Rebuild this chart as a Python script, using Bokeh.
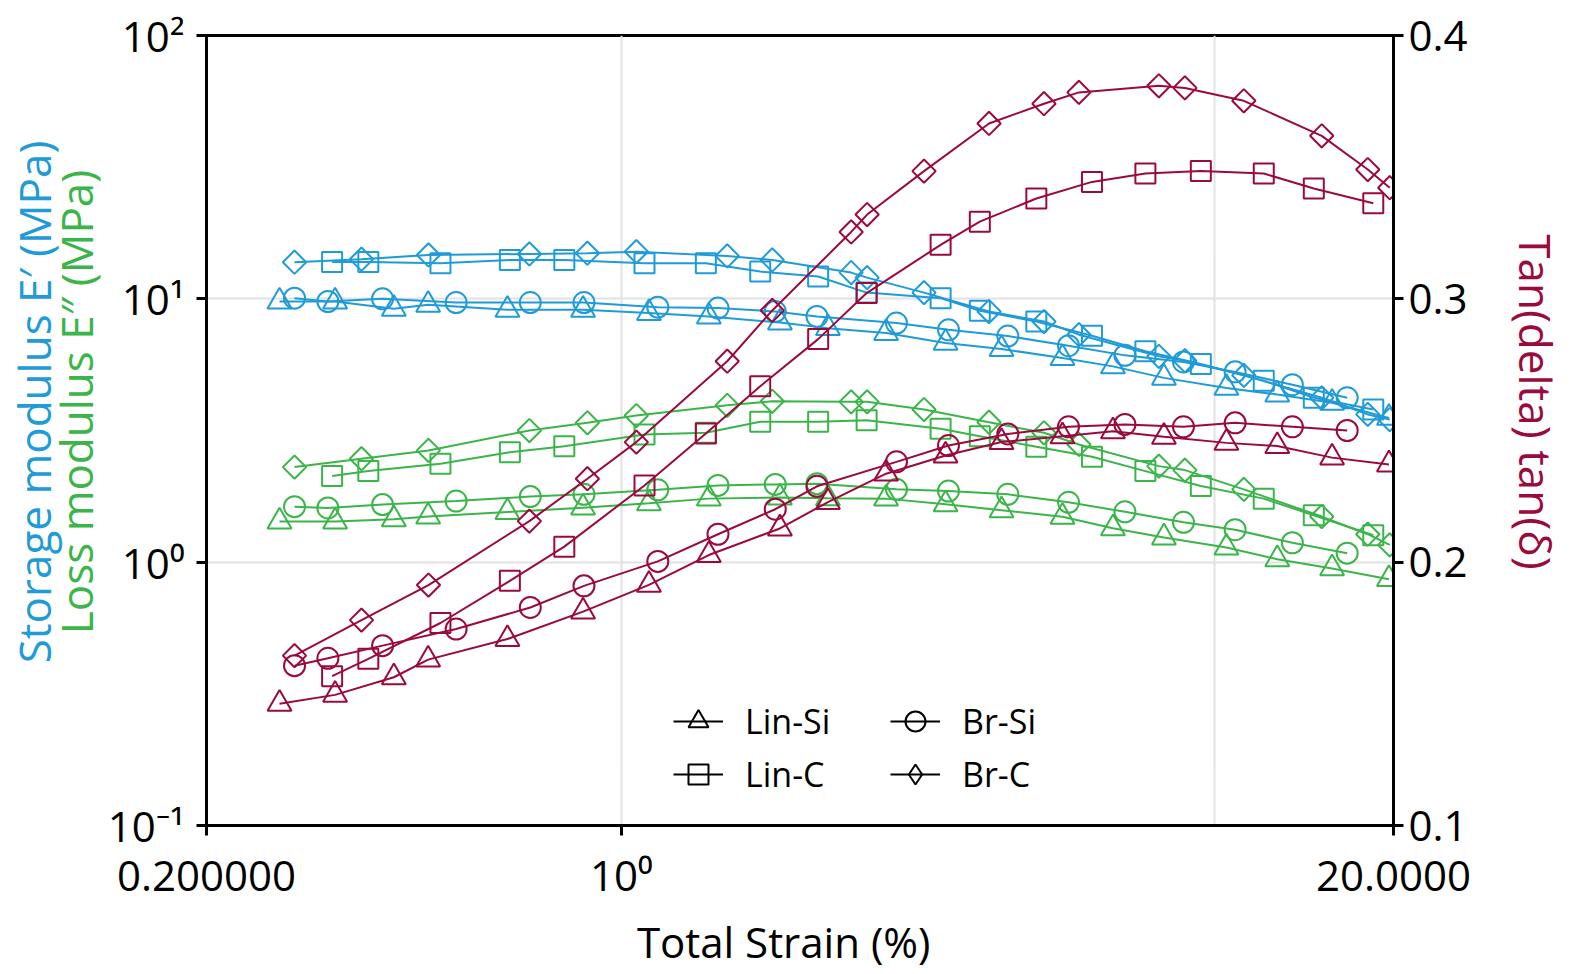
import math
from bokeh.plotting import figure
from bokeh.models import (Range1d, LinearAxis, LogAxis, LinearScale, FixedTicker,
                          Legend, LegendItem, ColumnDataSource)
from bokeh.embed import file_html
from bokeh.resources import INLINE

FONT = "Open Sans"
BLUE = "#1F9BD7"
GREEN = "#3BB54A"
RED = "#9B0A3C"
NBSP = "\u00a0"

# ---------------- data (strain %, E' MPa, E'' MPa, tan delta) ----------------
lin_si_strain = [0.2655, 0.3294, 0.4137, 0.4726, 0.6428, 0.8620, 1.113, 1.404, 1.850, 2.229,
                 2.793, 3.518, 4.371, 5.537, 6.735, 8.208, 10.46, 12.74, 15.76, 19.65]
lin_si_storage = [9.77, 9.77, 9.17, 9.49, 9.08, 9.08, 8.83, 8.57, 8.13, 7.74,
                  7.42, 6.80, 6.45, 5.96, 5.54, 5.01, 4.59, 4.33, 4.03, 3.53]
lin_si_loss = [1.426, 1.426, 1.455, 1.490, 1.551, 1.611, 1.673, 1.743, 1.759, 1.747,
               1.743, 1.658, 1.574, 1.487, 1.345, 1.241, 1.137, 1.026, 0.947, 0.862]
lin_si_tan = [0.1462, 0.1496, 0.1563, 0.1630, 0.1708, 0.1812, 0.1914, 0.2027, 0.2128, 0.2228,
              0.2336, 0.2405, 0.2456, 0.2478, 0.2497, 0.2476, 0.2453, 0.2441, 0.2397, 0.2371]

lin_c_strain = [0.3256, 0.3747, 0.4957, 0.6489, 0.8015, 1.094, 1.388, 1.714, 2.146, 2.590,
                3.451, 4.018, 5.003, 6.208, 7.638, 9.471, 12.09, 14.68, 18.49]
lin_c_storage = [13.81, 13.81, 13.65, 14.05, 14.05, 13.65, 13.65, 12.69, 12.15, 10.56,
                 10.06, 9.01, 8.20, 7.24, 6.32, 5.66, 4.89, 4.21, 3.80]
lin_c_loss = [2.123, 2.217, 2.365, 2.617, 2.757, 3.054, 3.100, 3.412, 3.412, 3.459,
              3.209, 3.009, 2.743, 2.514, 2.217, 1.945, 1.743, 1.507, 1.265]
lin_c_tan = [0.1567, 0.1633, 0.1769, 0.1929, 0.2059, 0.2291, 0.2489, 0.2668, 0.2847, 0.3022,
             0.3205, 0.3293, 0.3381, 0.3444, 0.3476, 0.3485, 0.3476, 0.3419, 0.3363]

br_si_strain = [0.2814, 0.3203, 0.3960, 0.5268, 0.7024, 0.8650, 1.152, 1.455, 1.817, 2.136,
                2.908, 3.558, 4.479, 5.668, 7.055, 8.854, 10.82, 13.51, 16.71]
br_si_storage = [10.06, 9.77, 10.0, 9.68, 9.68, 9.68, 9.30, 9.22, 8.95, 8.57,
                 8.09, 7.63, 7.22, 6.64, 6.10, 5.76, 5.28, 4.72, 4.21]
br_si_loss = [1.625, 1.606, 1.654, 1.707, 1.774, 1.810, 1.883, 1.957, 1.974, 1.987,
              1.890, 1.862, 1.810, 1.688, 1.553, 1.417, 1.328, 1.185, 1.082]
br_si_tan = [0.1607, 0.1635, 0.1683, 0.1746, 0.1828, 0.1910, 0.2003, 0.2106, 0.2201, 0.2288,
             0.2381, 0.2443, 0.2487, 0.2514, 0.2523, 0.2514, 0.2529, 0.2514, 0.2500]

br_c_strain = [0.2814, 0.3649, 0.4732, 0.6999, 0.8766, 1.060, 1.508, 1.796, 2.439, 2.595,
               3.236, 4.164, 5.153, 5.902, 8.048, 8.903, 11.19, 15.14, 18.10, 19.71]
br_c_storage = [13.77, 14.14, 14.68, 14.81, 14.90, 15.11, 14.55, 14.05, 12.58, 12.04,
                10.56, 8.95, 8.20, 7.31, 6.05, 5.82, 5.12, 4.21, 3.64, 3.48]
br_c_loss = [2.296, 2.471, 2.657, 3.162, 3.382, 3.605, 3.943, 4.083, 4.062, 4.062,
             3.798, 3.400, 3.100, 2.799, 2.316, 2.237, 1.890, 1.490, 1.277, 1.163]
br_c_tan = [0.1645, 0.1780, 0.1913, 0.2156, 0.2317, 0.2456, 0.2763, 0.2956, 0.3254, 0.3320,
            0.3485, 0.3666, 0.3741, 0.3784, 0.3809, 0.3801, 0.3752, 0.3619, 0.3491, 0.3422]

sample_names = ["Lin-Si", "Lin-C", "Br-Si", "Br-C"]
x_ticks = [0.2, 1, 20]
x_tick_labels = ["0.200000", "10\u2070", "20.0000"]
y_ticks = [0.1, 1, 10, 100]
y_tick_labels = ["10\u207b\u00b9", "10\u2070", "10\u00b9", "10\u00b2"]
tan_ticks = [0.1, 0.2, 0.3, 0.4]

samples = {
    "Lin-Si": (lin_si_strain, lin_si_storage, lin_si_loss, lin_si_tan),
    "Lin-C": (lin_c_strain, lin_c_storage, lin_c_loss, lin_c_tan),
    "Br-Si": (br_si_strain, br_si_storage, br_si_loss, br_si_tan),
    "Br-C": (br_c_strain, br_c_storage, br_c_loss, br_c_tan),
}
marker_style = {
    "Lin-Si": dict(marker="triangle", size=24, angle=0.0),
    "Lin-C": dict(marker="square", size=20, angle=0.0),
    "Br-Si": dict(marker="circle", size=21, angle=0.0),
    "Br-C": dict(marker="square", size=16.5, angle=math.pi / 4),
}
legend_marker = {"Lin-Si": "triangle", "Lin-C": "square", "Br-Si": "circle", "Br-C": "diamond"}

# ---------------- figure ----------------
p = figure(width=1572, height=972, x_axis_type="log", y_axis_type="log",
           x_range=Range1d(0.2, 20), y_range=Range1d(0.1, 100),
           output_backend="svg", toolbar_location=None,
           min_border_left=205, min_border_right=179,
           min_border_top=35, min_border_bottom=145)
p.extra_y_ranges = {"tan": Range1d(0.1, 0.4)}
p.extra_y_scales = {"tan": LinearScale()}
p.background_fill_color = "white"
p.outline_line_color = "black"
p.outline_line_width = 3

# grids
p.xgrid.ticker = FixedTicker(ticks=[1, 10])
p.ygrid.ticker = FixedTicker(ticks=[1, 10])
for g in (p.xgrid[0], p.ygrid[0]):
    g.grid_line_color = "#E2E2E2"
    g.grid_line_width = 2

def style_axis(ax, label_size="42px"):
    ax.axis_line_color = "black"
    ax.axis_line_width = 3
    ax.major_tick_line_color = "black"
    ax.major_tick_line_width = 3
    ax.major_tick_in = 0
    ax.major_tick_out = 10
    ax.minor_tick_line_color = None
    ax.major_label_text_font = FONT
    ax.major_label_text_font_size = "42px"
    ax.major_label_text_color = "black"
    ax.major_label_standoff = 10
    ax.axis_label_text_font = FONT
    ax.axis_label_text_font_size = label_size
    ax.axis_label_text_font_style = "normal"

xa = p.xaxis[0]
style_axis(xa)
xa.ticker = FixedTicker(ticks=x_ticks)
xa.major_label_overrides = dict(zip(x_ticks, x_tick_labels))
xa.axis_label = "Total Strain (%)" + NBSP * 3
xa.axis_label_text_color = "black"
xa.axis_label_standoff = 7

ya = p.yaxis[0]
style_axis(ya)
ya.ticker = FixedTicker(ticks=y_ticks)
ya.major_label_overrides = dict(zip(y_ticks, y_tick_labels))
ya.major_label_standoff = 12

ra = LinearAxis(y_range_name="tan", ticker=FixedTicker(ticks=tan_ticks))
style_axis(ra, "44px")
ra.major_label_standoff = 5
ra.axis_label = "Tan(delta) tan(\u03b4)" + NBSP * 5
ra.axis_label_text_color = RED
ra.axis_label_standoff = 35
p.add_layout(ra, "right")

# left title: two coloured lines as two label-only axes
def title_axis(text, color, standoff):
    ax = LogAxis(ticker=FixedTicker(ticks=[]))
    style_axis(ax, "44px")
    ax.axis_line_color = None
    ax.major_tick_line_color = None
    ax.major_label_text_font_size = "0px"
    ax.axis_label = NBSP * 5 + text
    ax.axis_label_text_color = color
    ax.axis_label_standoff = standoff
    return ax

p.add_layout(title_axis("Loss modulus E\u2033 (MPa)", GREEN, -1), "left")
p.add_layout(title_axis("Storage modulus E\u2032 (MPa)", BLUE, -21), "left")

# ---------------- data series ----------------
for color, idx, rng in ((BLUE, 1, "default"), (GREEN, 2, "default"), (RED, 3, "tan")):
    for name in sample_names:
        series = samples[name]
        src = ColumnDataSource(dict(x=series[0], y=series[idx]))
        st = marker_style[name]
        p.line("x", "y", source=src, line_color=color, line_width=2, y_range_name=rng)
        p.scatter("x", "y", source=src, marker=st["marker"], size=st["size"],
                  angle=st["angle"], line_color=color, line_width=2,
                  fill_alpha=0, y_range_name=rng)

# ---------------- legend (black samples, invisible data) ----------------
def legend_item(name):
    src = ColumnDataSource(dict(x=[float("nan")], y=[float("nan")]))
    lr = p.line("x", "y", source=src, line_color="black", line_width=2)
    sr = p.scatter("x", "y", source=src, marker=legend_marker[name], size=20,
                   line_color="black", line_width=2, fill_alpha=0)
    return LegendItem(label=name, renderers=[lr, sr])

for names, loc in ((["Lin-Si", "Lin-C"], (467, 26)), (["Br-Si", "Br-C"], (684, 26))):
    lg = Legend(items=[legend_item(n) for n in names], location=loc,
                orientation="vertical", border_line_alpha=0,
                background_fill_alpha=0, padding=0, margin=0, spacing=3,
                glyph_width=50, glyph_height=50, label_height=50,
                label_standoff=22, label_text_font=FONT,
                label_text_font_size="34px", label_text_color="black")
    p.add_layout(lg, "center")

open("out.html", "w").write(file_html(p, INLINE))
